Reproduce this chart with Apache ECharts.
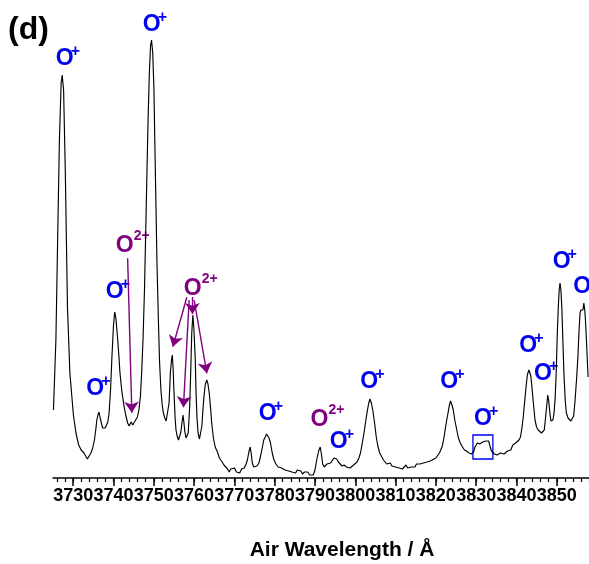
<!DOCTYPE html>
<html><head><meta charset="utf-8">
<script src="https://cdn.jsdelivr.net/npm/echarts@6/dist/echarts.min.js"></script>
<style>html,body{margin:0;padding:0;background:#fff}#c{width:589px;height:564px}</style>
</head><body><div id="c"></div>
<script>
// Spectrum: air wavelength (Å) and intensity (arbitrary units)
const wavelength = [
3725.11,3725.72,3726.15,3726.59,3727.02,3727.28,3727.63,3728.06,3728.59,3729.19,3730.06,3730.7,3731.37,3732.0,3732.67,3733.1,3733.54,3734.0,3734.41,3734.85,
3735.28,3735.6,3735.88,3736.15,3736.4,3736.7,3737.01,3737.3,3737.62,3737.95,3738.32,3738.6,3738.92,3739.3,3739.62,3740.0,3740.31,3740.6,3740.92,3741.3,
3741.62,3742.1,3742.66,3743.1,3743.53,3743.9,3744.22,3744.4,3744.57,3744.8,3745.09,3745.35,3745.61,3745.95,3746.31,3746.7,3747.0,3747.35,3747.7,3748.0,
3748.31,3748.6,3748.91,3749.2,3749.45,3749.75,3750.05,3750.25,3750.48,3750.8,3751.17,3751.45,3751.78,3752.1,3752.39,3752.75,3753.08,3753.5,3753.8,3754.12,
3754.4,3754.6,3754.8,3755.0,3755.3,3755.52,3755.8,3756.13,3756.4,3756.73,3757.0,3757.26,3757.5,3757.69,3758.0,3758.3,3758.55,3758.91,3759.2,3759.43,
3759.7,3759.95,3760.29,3760.5,3760.73,3761.0,3761.34,3761.6,3761.94,3762.2,3762.47,3762.8,3763.16,3763.45,3763.77,3764.1,3764.38,3764.8,3765.25,3765.8,
3766.29,3766.8,3767.42,3767.9,3768.3,3768.72,3769.1,3769.5,3770.03,3770.5,3770.9,3771.33,3771.8,3772.2,3772.46,3772.9,3773.24,3773.6,3773.93,3774.2,
3774.45,3774.8,3775.23,3775.6,3776.1,3776.5,3776.97,3777.3,3777.67,3778.0,3778.28,3778.6,3778.97,3779.4,3779.84,3780.3,3780.88,3781.3,3781.7,3782.19,
3782.6,3783.0,3783.49,3783.9,3784.3,3784.79,3785.2,3785.6,3786.09,3786.5,3786.9,3787.4,3787.8,3788.2,3788.7,3789.1,3789.57,3790.0,3790.44,3790.9,
3791.31,3791.6,3791.92,3792.3,3792.61,3793.0,3793.48,3793.9,3794.35,3794.7,3795.04,3795.4,3795.83,3796.2,3796.7,3797.2,3797.82,3798.3,3798.7,3799.13,
3799.6,3800.0,3800.43,3800.9,3801.3,3801.7,3802.17,3802.6,3803.03,3803.35,3803.64,3804.0,3804.34,3804.8,3805.21,3805.6,3806.07,3806.6,3807.0,3807.38,
3807.8,3808.2,3808.68,3809.1,3809.5,3810.0,3810.42,3810.9,3811.3,3811.7,3812.16,3812.6,3813.0,3813.4,3813.9,3814.3,3814.8,3815.2,3815.63,3816.1,
3816.5,3816.9,3817.37,3817.8,3818.2,3818.6,3819.11,3819.6,3820.0,3820.41,3820.9,3821.2,3821.54,3822.0,3822.41,3822.7,3823.02,3823.3,3823.63,3824.0,
3824.32,3824.7,3825.19,3825.6,3826.06,3826.6,3827.1,3827.6,3828.23,3828.8,3829.36,3829.7,3829.97,3830.3,3830.58,3830.9,3831.27,3831.6,3831.97,3832.4,
3832.83,3833.1,3833.44,3833.8,3834.05,3834.5,3835.18,3835.6,3836.0,3836.48,3836.9,3837.3,3837.78,3838.2,3838.6,3839.09,3839.5,3839.8,3840.13,3840.6,
3841.0,3841.35,3841.69,3842.0,3842.38,3842.7,3843.08,3843.35,3843.6,3843.9,3844.29,3844.6,3844.99,3845.4,3845.86,3846.2,3846.56,3846.9,3847.16,3847.5,
3847.77,3848.0,3848.29,3848.55,3848.81,3849.05,3849.33,3849.6,3849.86,3850.1,3850.38,3850.6,3850.81,3851.03,3851.25,3851.5,3851.77,3852.1,3852.38,3852.8,
3853.16,3853.5,3853.86,3854.2,3854.55,3854.9,3855.25,3855.5,3855.77,3856.0,3856.29,3856.5,3856.72,3856.95,3857.16,3857.45,3857.77
];
const intensity = [
68,138,238,338,395,403,388,305,171,105,63,45,33,28,25,22,19,21,25,30,
38,48,58,63,66,60,55,50,48,50,51,56,65,90,121,152,166,160,145,125,
105,86,71,62,55,52,50,56,58,53,52,57,56,61,68,82,105,140,188,245,
305,360,405,432,438,425,388,340,288,215,155,115,88,73,65,60,57,55,75,105,
118,123,110,88,60,48,42,38,37,46,55,63,55,47,40,38,45,71,110,145,
163,150,120,85,60,45,39,40,52,68,82,94,98,94,85,70,55,40,31,26,
20,17,13,11,9,6,9,7,10,6,8,5,9,7,10,14,18,26,31,24,
15,11,9,12,15,22,31,38,41,44,45,40,35,25,18,14,11,13,10,10,
8,10,7,9,6,7,5,8,6,7,4,6,4,6,3,5,3,8,18,27,
31,24,14,11,12,14,12,15,17,20,22,19,16,14,12,13,11,13,10,11,
13,12,16,20,25,34,45,57,68,75,79,75,68,55,41,32,25,21,18,17,
14,16,15,12,14,11,13,10,12,9,11,13,10,12,11,13,11,14,12,14,
13,15,14,16,15,17,18,19,20,21,25,28,31,40,51,58,65,72,77,73,
68,58,48,40,35,31,28,27,25,24,26,31,33,35,36,34,33,36,35,37,
39,37,32,27,25,24,23,22,25,23,24,26,27,29,28,33,32,35,35,38,
41,50,61,75,91,103,108,105,101,88,71,58,51,48,49,45,43,48,58,72,
83,77,65,57,55,58,65,80,105,140,171,188,195,188,171,140,105,78,65,60,
58,57,56,62,78,98,121,145,165,168,170,168,175,168,155,130,101
];

// Axis ticks and labels
const majorTicks = [3730,3740,3750,3760,3770,3780,3790,3800,3810,3820,3830,3840,3850];
const minorStep = 2;
const axisMin = 3725, axisMax = 3858;

// Ion annotations: [ion, charge, wavelength, intensity position]
const ionLabels = [
  ['O','+',3727.9,419],
  ['O','+',3749.5,453],
  ['O','+',3735.5,89],
  ['O','+',3740.3,186],
  ['O','2+',3742.8,232],
  ['O','2+',3759.65,189],
  ['O','+',3778.26,64.5],
  ['O','2+',3791.1,58],
  ['O','+',3795.9,36],
  ['O','+',3803.45,96.5],
  ['O','+',3823.3,96],
  ['O','+',3831.7,59],
  ['O','+',3842.9,132.5],
  ['O','+',3846.6,104.5],
  ['O','+',3851.2,216],
  ['O','+',3856.3,191.5]
];
// Arrows: [from λ, from I, to λ, to I]
const arrows = [
  [3743.52,219.7,3744.56,65.3],
  [3758.21,180.7,3754.74,131.3],
  [3758.78,178,3757.37,70.7],
  [3760.02,178,3763.18,104.7],
  [3759.6,181,3759.6,164]
];
// Highlighted region: [λ start, λ end, I low, I high]
const boxRegion = [3829.2,3834.15,19,43];

const FONT = "'Liberation Sans', Arial, Helvetica, sans-serif";
const BLUE = '#0000ee', PURPLE = '#800080';

const minorTicks = [];
for (let v = 3726; v <= axisMax; v += minorStep) minorTicks.push(v);
const lineData = wavelength.map((w,i)=>[w,intensity[i]]);

const chart = echarts.init(document.getElementById('c'), null, {renderer:'canvas'});
chart.setOption({
  animation:false,
  backgroundColor:'#fff',
  grid:{left:53,right:0,top:0,bottom:86},
  xAxis:[
    {type:'value',min:axisMin,max:axisMax,position:'bottom',
     axisLine:{show:true,lineStyle:{color:'#000',width:1.5}},
     axisTick:{show:true,customValues:majorTicks,length:8,lineStyle:{color:'#000',width:1.5}},
     axisLabel:{show:true,customValues:majorTicks,hideOverlap:false,showMinLabel:true,showMaxLabel:true,
       formatter:(v)=>String(v),margin:9,fontSize:18,fontWeight:'bold',color:'#000',fontFamily:FONT},
     splitLine:{show:false}},
    {type:'value',min:axisMin,max:axisMax,position:'bottom',
     axisLine:{show:false},
     axisTick:{show:true,customValues:minorTicks,length:4,lineStyle:{color:'#000',width:1.2}},
     axisLabel:{show:false},splitLine:{show:false}}
  ],
  yAxis:{type:'value',min:0,max:478,show:false,splitLine:{show:false}},
  series:[{
    type:'line',xAxisIndex:0,data:lineData,showSymbol:false,symbol:'none',
    lineStyle:{color:'#000',width:1.15},silent:true,
    markLine:{silent:true,symbol:['none','arrow'],symbolSize:11,
      itemStyle:{color:PURPLE},
      lineStyle:{color:PURPLE,width:1.4,type:'solid',opacity:1},label:{show:false},
      emphasis:{disabled:true},
      data:arrows.map(a=>[{coord:[a[0],a[1]]},{coord:[a[2],a[3]]}])},
    markArea:{silent:true,itemStyle:{color:'rgba(0,0,0,0)',borderColor:BLUE,borderWidth:1.3,opacity:1},
      label:{show:false},emphasis:{disabled:true},
      data:[[{coord:[boxRegion[0],boxRegion[3]]},{coord:[boxRegion[1],boxRegion[2]]}]]}
  }]
});

const g = [];
ionLabels.forEach(l=>{
  const p = chart.convertToPixel({gridIndex:0},[l[2],l[3]]);
  const col = l[1]==='+' ? BLUE : PURPLE;
  g.push({type:'text',x:p[0],y:p[1],style:{text:l[0],fill:col,font:'bold 23px '+FONT,textAlign:'center',textVerticalAlign:'middle'}});
  if (l[1]==='+') {
    g.push({type:'text',x:p[0]+6,y:p[1]-7,style:{text:'+',fill:col,font:'bold 16px '+FONT,textAlign:'left',textVerticalAlign:'middle'}});
  } else {
    g.push({type:'text',x:p[0]+9,y:p[1]-9.5,style:{text:'2+',fill:col,font:'bold 14px '+FONT,textAlign:'left',textVerticalAlign:'middle'}});
  }
});
g.push({type:'text',x:342,y:550,style:{text:'Air Wavelength / Å',fill:'#000',font:'bold 21px '+FONT,textAlign:'center',textVerticalAlign:'middle'}});
g.push({type:'text',x:8,y:30,style:{text:'(d)',fill:'#000',font:'bold 32px '+FONT,textAlign:'left',textVerticalAlign:'middle'}});
chart.setOption({graphic:g});
</script></body></html>
